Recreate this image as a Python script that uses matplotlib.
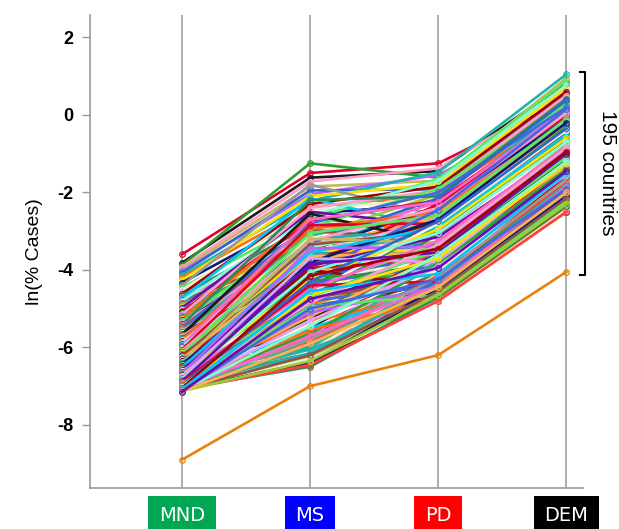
import numpy as np
import matplotlib
matplotlib.use("Agg")
import matplotlib.pyplot as plt

plt.rcParams["axes.unicode_minus"] = False

categories = ["MND", "MS", "PD", "DEM"]
cat_colors = ["#00a651", "#0000ff", "#ff0000", "#000000"]

# ln(% cases) per country, one entry per country in each list (same order)
mnd = [-3.60, -3.82, -3.88, -3.93, -3.98, -4.03, -4.08, -4.14, -4.20, -4.27, -4.33, -4.40, -4.46, -4.52, -4.58,
       -4.62, -4.66, -4.71, -4.74, -4.78, -4.80, -4.85, -4.89, -4.91, -4.95, -4.98, -5.02, -5.04, -5.07, -5.10,
       -5.12, -5.15, -5.18, -5.19, -5.21, -5.24, -5.25, -5.27, -5.30, -5.31, -5.33, -5.36, -5.37, -5.39, -5.42,
       -5.43, -5.45, -5.48, -5.49, -5.51, -5.54, -5.55, -5.57, -5.60, -5.61, -5.63, -5.66, -5.67, -5.69, -5.71,
       -5.72, -5.75, -5.76, -5.78, -5.80, -5.82, -5.83, -5.85, -5.86, -5.88, -5.90, -5.91, -5.92, -5.94, -5.95,
       -5.97, -5.98, -5.99, -6.00, -6.01, -6.02, -6.03, -6.05, -6.05, -6.06, -6.08, -6.08, -6.09, -6.10, -6.12,
       -6.12, -6.13, -6.15, -6.15, -6.16, -6.17, -6.19, -6.19, -6.20, -6.21, -6.22, -6.24, -6.24, -6.25, -6.26,
       -6.27, -6.29, -6.29, -6.30, -6.31, -6.33, -6.33, -6.34, -6.35, -6.37, -6.37, -6.38, -6.40, -6.40, -6.41,
       -6.42, -6.44, -6.44, -6.45, -6.46, -6.48, -6.48, -6.49, -6.50, -6.52, -6.52, -6.53, -6.55, -6.55, -6.56,
       -6.57, -6.59, -6.59, -6.60, -6.61, -6.63, -6.63, -6.64, -6.65, -6.67, -6.67, -6.68, -6.70, -6.70, -6.71,
       -6.72, -6.74, -6.74, -6.75, -6.76, -6.78, -6.78, -6.79, -6.80, -6.82, -6.82, -6.83, -6.85, -6.85, -6.86,
       -6.87, -6.89, -6.89, -6.90, -6.91, -6.93, -6.93, -6.94, -6.95, -6.97, -6.97, -6.98, -7.00, -7.00, -7.01,
       -7.02, -7.03, -7.04, -7.05, -7.06, -7.07, -7.08, -7.09, -7.10, -7.10, -7.12, -7.13, -7.14, -7.15, -8.90]
ms = [-1.50, -1.62, -1.25, -1.72, -1.85, -2.05, -1.95, -2.22, -2.38, -2.10, -2.55, -1.80, -2.70, -2.45, -3.05,
      -2.30, -2.85, -3.30, -2.15, -3.55, -2.60, -3.80, -2.95, -3.15, -4.05, -2.50, -3.40, -3.70, -2.75, -4.20,
      -3.25, -2.40, -3.95, -3.60, -4.40, -3.10, -2.65, -4.60, -3.50, -3.85, -2.90, -4.10, -3.35, -4.75, -2.20,
      -3.75, -4.30, -3.00, -4.50, -3.65, -2.80, -4.85, -3.45, -4.15, -3.20, -5.00, -3.90, -2.55, -4.45, -3.55,
      -5.15, -4.00, -3.30, -4.65, -2.95, -4.25, -5.30, -3.70, -4.90, -3.15, -4.35, -5.45, -3.80, -2.70, -4.55,
      -5.05, -3.40, -4.70, -5.60, -3.95, -4.20, -5.20, -3.60, -4.80, -2.85, -5.50, -4.05, -3.25, -4.60, -5.75,
      -3.85, -4.95, -5.35, -3.50, -4.40, -5.80, -3.05, -4.75, -5.10, -3.75, -4.30, -5.55, -6.00, -3.35, -4.85,
      -5.25, -4.10, -5.90, -3.65, -4.50, -6.10, -5.00, -3.95, -5.65, -4.65, -6.20, -3.20, -5.40, -4.20, -5.85,
      -4.90, -6.30, -3.80, -5.15, -4.45, -6.40, -5.70, -4.00, -5.30, -6.05, -3.55, -4.75, -6.25, -5.45, -4.35,
      -6.35, -5.05, -3.90, -5.95, -4.60, -6.15, -5.25, -4.15, -6.45, -5.60, -3.45, -4.95, -6.00, -5.35, -4.25,
      -6.30, -5.75, -4.70, -6.10, -3.70, -5.15, -6.40, -4.50, -5.50, -6.20, -4.05, -5.85, -4.80, -6.35, -5.20,
      -3.85, -6.05, -5.40, -4.40, -6.45, -5.65, -4.85, -6.25, -5.10, -4.30, -6.15, -5.55, -4.65, -6.40, -5.80,
      -4.95, -6.30, -5.30, -4.15, -6.50, -5.70, -4.55, -6.20, -5.45, -6.45, -5.00, -6.35, -5.90, -4.75, -7.00]
pd_ = [-1.25, -1.45, -1.62, -1.38, -1.70, -1.55, -1.92, -1.48, -2.05, -1.78, -2.30, -2.60, -1.65, -2.15, -2.45,
       -1.85, -2.70, -2.25, -2.95, -3.10, -1.70, -2.50, -3.35, -2.05, -3.60, -2.85, -2.40, -3.25, -2.20, -3.00,
       -3.70, -1.95, -2.65, -3.45, -2.90, -2.55, -3.05, -3.80, -2.35, -3.15, -1.90, -3.55, -2.75, -4.05, -2.10,
       -2.45, -3.90, -3.20, -2.80, -3.40, -2.00, -4.20, -2.60, -3.65, -2.95, -3.50, -2.30, -3.30, -4.10, -2.70,
       -4.40, -3.10, -2.15, -3.75, -2.50, -4.30, -3.85, -2.85, -4.55, -3.60, -2.65, -4.00, -3.35, -2.25, -3.95,
       -4.60, -2.90, -3.45, -4.25, -3.70, -2.55, -4.45, -3.05, -4.15, -2.80, -3.60, -4.35, -2.40, -3.80, -4.70,
       -3.25, -2.95, -4.05, -3.50, -4.50, -3.90, -2.60, -3.15, -4.65, -2.75, -3.85, -4.30, -4.75, -3.00, -3.40,
       -4.20, -2.45, -4.80, -3.55, -4.00, -4.40, -3.20, -3.75, -4.55, -2.85, -4.70, -3.30, -4.10, -3.65, -4.35,
       -3.95, -4.60, -2.70, -4.25, -3.35, -4.78, -3.70, -4.45, -3.05, -4.50, -2.90, -4.15, -4.65, -3.45, -3.90,
       -4.80, -4.05, -3.15, -4.30, -2.80, -4.60, -3.60, -4.20, -4.75, -3.95, -3.40, -4.35, -3.75, -4.55, -2.95,
       -4.45, -4.70, -3.50, -4.10, -3.80, -4.25, -4.65, -3.25, -4.50, -4.80, -3.05, -4.15, -4.40, -4.55, -3.65,
       -3.55, -4.75, -4.00, -4.30, -4.70, -3.85, -3.35, -4.60, -4.45, -2.75, -4.35, -4.75, -3.70, -4.50, -4.20,
       -4.65, -4.80, -3.90, -3.45, -4.70, -4.40, -4.10, -4.55, -3.60, -4.80, -4.25, -4.65, -4.45, -3.95, -6.20]
dem = [0.40, 0.82, 0.30, 0.62, 0.95, 0.18, 0.52, 1.05, 0.08, 0.70, -0.15, 0.35, 0.88, -0.30, 0.25,
       0.60, -0.45, 0.15, -0.20, -0.65, 0.78, -0.05, -0.90, 0.45, -1.10, -0.35, 0.32, -0.55, 0.05, -0.80,
       -1.25, 0.50, -0.25, -1.40, -0.70, 0.12, -0.95, -1.55, -0.10, -0.60, 0.28, -1.00, -0.40, -1.70, 0.42,
       -0.18, -1.35, -0.75, -0.50, -1.15, 0.20, -1.85, -0.30, -1.20, -0.85, -1.30, 0.00, -0.65, -1.60, -0.45,
       -2.00, -0.70, 0.38, -1.45, -0.20, -1.75, -1.10, -0.55, -2.10, -0.98, -0.15, -1.50, -0.88, 0.10, -1.40,
       -1.95, -0.40, -1.05, -1.80, -0.95, -0.25, -2.20, -0.60, -1.55, -0.35, -1.25, -1.90, 0.05, -1.00, -2.30,
       -0.72, -0.50, -1.65, -1.15, -2.05, -1.35, -0.10, -0.80, -2.15, -0.45, -1.20, -1.70, -2.35, -0.65, -0.90,
       -1.85, 0.15, -2.45, -1.05, -1.45, -2.00, -0.70, -1.30, -2.25, -0.30, -2.40, -0.85, -1.60, -1.10, -1.95,
       -1.50, -2.30, -0.20, -1.75, -0.75, -2.48, -1.25, -2.10, -0.55, -2.15, -0.50, -1.65, -2.35, -1.00, -1.40,
       -2.50, -1.55, -0.90, -1.90, -0.40, -2.20, -1.15, -1.80, -2.42, -1.35, -0.95, -1.85, -1.45, -2.05, -0.60,
       -2.25, -2.40, -1.10, -1.70, -1.20, -1.60, -2.30, -0.80, -2.00, -2.45, -0.70, -1.75, -1.95, -2.15, -1.30,
       -1.00, -2.35, -1.50, -1.90, -2.50, -1.40, -0.85, -2.25, -2.05, -0.35, -1.80, -2.40, -1.25, -2.10, -1.65,
       -2.20, -2.45, -1.55, -0.95, -2.35, -1.85, -1.50, -2.15, -1.20, -2.50, -1.90, -2.30, -2.00, -1.45, -4.05]

palette = ["#e4002b", "#1a1a1a", "#2ca02c", "#ff9ecb", "#c8b560", "#b266ff", "#3366cc",
           "#1fb5a8", "#ff6a13", "#ffe000", "#0a1f6b", "#999999", "#5ee65e", "#f5ecd0",
           "#d9a5ff", "#a30000", "#2e8b57", "#ff66cc", "#00c8ff", "#8c564b", "#7fffd4",
           "#ff4040", "#4169e1", "#9acd32", "#ffb347", "#6a0dad", "#20b2aa", "#fff5e6"]

fig = plt.figure(figsize=(6.19, 5.29), dpi=100)
ax = fig.add_axes([0.145, 0.0775, 0.797, 0.895])

x = np.arange(len(categories))
n = len(mnd)
for i in range(n):
    c = "#e8820c" if i == n - 1 else palette[i % len(palette)]
    ax.plot(x, [mnd[i], ms[i], pd_[i], dem[i]], color=c, lw=1.9, marker="o",
            markersize=4, markerfacecolor="none", markeredgewidth=0.9, zorder=3)

ax.set_xlim(-0.72, 3.13)
ax.set_ylim(-9.63, 2.59)
ax.set_yticks([2, 0, -2, -4, -6, -8])
for lab in ax.get_yticklabels():
    lab.set_fontfamily("Liberation Sans")
    lab.set_fontweight("bold")
    lab.set_fontsize(13)
ax.tick_params(axis="y", colors="#999999", labelcolor="black", length=6, width=1, pad=6)
ax.set_xticks(x)
ax.set_xticklabels([])
ax.tick_params(axis="x", length=0)
ax.xaxis.grid(True, color="#a0a0a0", lw=1.2, zorder=1)
ax.set_axisbelow(True)
for s in ["top", "right"]:
    ax.spines[s].set_visible(False)
for s in ["left", "bottom"]:
    ax.spines[s].set_color("#999999")
    ax.spines[s].set_linewidth(1.2)
ax.set_ylabel("ln(% Cases)", fontsize=14, family="Liberation Sans", labelpad=10)

# category labels in colored boxes
for xi, name, col in zip(x, categories, cat_colors):
    ax.annotate(name, xy=(xi, 0), xycoords=("data", "axes fraction"),
                xytext=(0, -20), textcoords="offset points", ha="center", va="center",
                color="white", fontsize=14, family="DejaVu Sans",
                bbox=dict(boxstyle="square,pad=0.55", fc=col, ec="none"),
                annotation_clip=False)

# bracket marking 195 countries
bx = 3.148
ax.plot([bx - 0.04, bx, bx, bx - 0.04], [1.12, 1.12, -4.12, -4.12], color="black",
        lw=1.5, clip_on=False)
ax.text(bx + 0.17, -1.5, "195 countries", rotation=270, ha="center", va="center",
        fontsize=15, family="Liberation Sans")

fig.savefig("out.png", dpi=100)
